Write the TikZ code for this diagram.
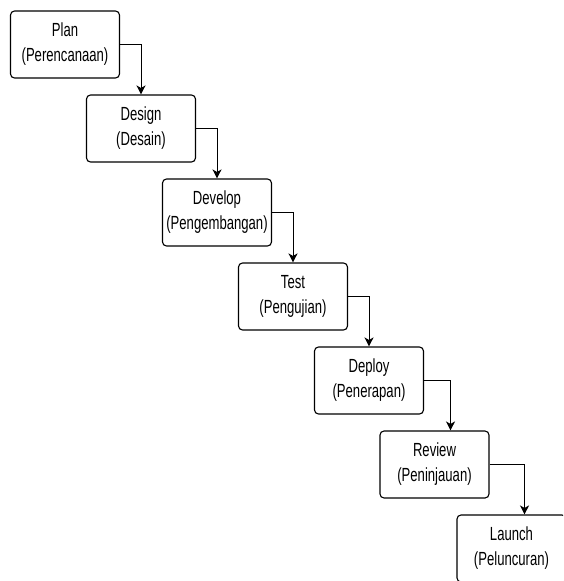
\documentclass[tikz,border=0pt]{standalone}
\usepackage{fontspec}
\setmainfont{Liberation Sans}[FakeStretch=0.69]
\usetikzlibrary{positioning, calc, arrows.meta}
\tikzstyle{stage} = [rectangle, rounded corners=4pt, minimum width=109pt, minimum height=67pt, inner sep=2pt, text centered, draw=black, line width=1.1pt]
\tikzstyle{arrow} = [-{Stealth[length=9pt, width=9pt, inset=2.5pt]}, line width=1pt]

\begin{document}
\begin{tikzpicture}[node distance=84pt, align=center, font=\fontsize{19}{25}\selectfont]
  \useasboundingbox (-65pt,44.5pt) rectangle (498pt,-536.5pt);
  \clip (-65pt,44.5pt) rectangle (498pt,-536.5pt);
  % stages
  \node (plan) [stage] {Plan\\(Perencanaan)};
  \node (design) [stage, below of=plan, xshift=76pt] {Design\\(Desain)};
  \node (develop) [stage, below of=design, xshift=76pt] {Develop\\(Pengembangan)};
  \node (test) [stage, below of=develop, xshift=76pt] {Test\\(Pengujian)};
  \node (deploy) [stage, below of=test, xshift=76pt] {Deploy\\(Penerapan)};
  \node (review) [stage, below of=deploy, xshift=65.5pt] {Review\\(Peninjauan)};
  \node (launch) [stage, below of=review, xshift=77pt] {Launch\\(Peluncuran)};

  % connectors
  \draw [arrow](plan.east) -| (design.north);
  \draw [arrow](design.east) -| (develop.north);
  \draw [arrow](develop.east) -| (test.north);
  \draw [arrow](test.east) -| (deploy.north);
  \draw [arrow](deploy.east) -| ($(review.north) + (16pt,0)$);
  \draw [arrow](review.east) -| ($(launch.north) + (13pt,0)$);
\end{tikzpicture}
\end{document}
